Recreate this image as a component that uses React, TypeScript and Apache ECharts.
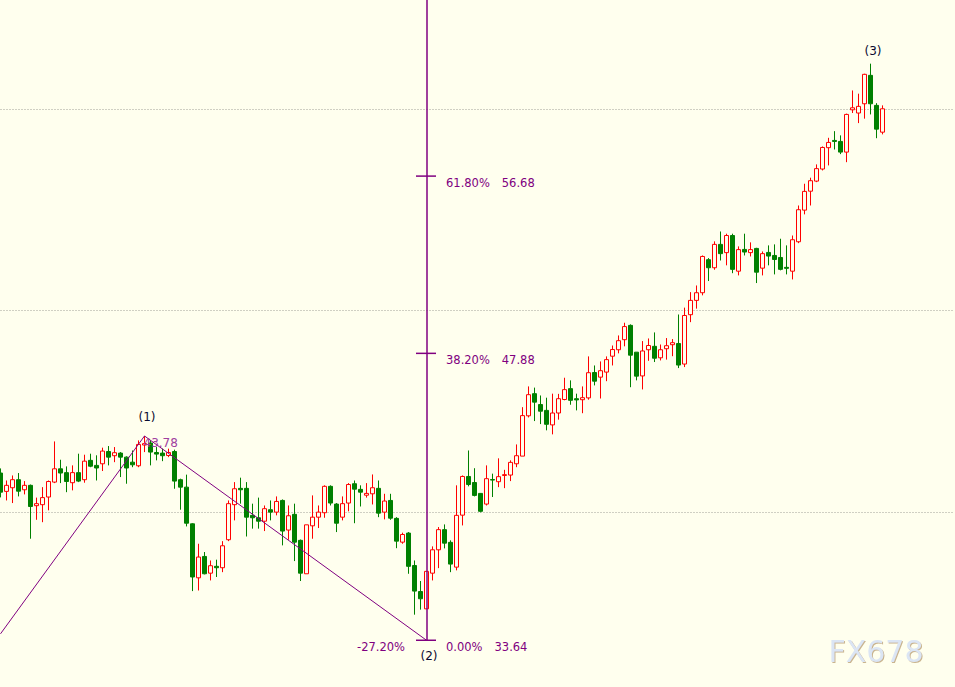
import React, { useEffect, useRef } from 'react';
import * as echarts from 'echarts';

// [open, close, low, high]
const ohlc: number[][] = [
  [41.94, 40.99, 40.73, 42.17], [41.03, 41.33, 40.58, 41.57], [41.21, 41.61, 40.45, 41.82], [41.61, 41.04, 40.78, 41.94],
  [41.11, 41.33, 40.88, 41.54], [41.33, 40.28, 38.68, 41.37], [40.32, 40.42, 39.62, 40.72], [40.37, 40.72, 39.50, 41.24],
  [40.75, 41.52, 40.09, 41.57], [41.49, 42.15, 41.44, 43.51], [42.15, 41.94, 41.44, 42.60], [41.96, 41.52, 40.99, 42.27],
  [41.46, 41.96, 41.08, 42.32], [41.96, 41.54, 41.49, 42.90], [41.61, 42.53, 41.46, 42.85], [42.57, 42.28, 42.23, 42.90],
  [42.32, 42.19, 41.57, 42.82], [42.40, 43.03, 42.04, 43.20], [43.01, 42.73, 42.32, 43.28], [42.80, 42.95, 42.48, 43.23],
  [42.93, 42.73, 41.74, 42.98], [42.73, 42.19, 41.41, 42.77], [42.48, 42.35, 42.23, 43.06], [42.30, 43.36, 42.23, 43.56],
  [43.33, 43.40, 42.98, 43.78], [43.43, 42.98, 42.32, 43.56], [42.96, 42.88, 42.57, 43.23], [42.93, 42.80, 42.53, 43.15],
  [42.81, 42.96, 42.73, 43.15], [43.01, 41.54, 41.16, 43.10], [41.61, 41.24, 40.12, 41.66], [41.24, 39.45, 39.29, 41.86],
  [39.42, 36.78, 36.08, 39.45], [36.74, 37.77, 36.11, 38.43], [37.80, 36.94, 36.91, 38.02], [36.97, 37.34, 36.61, 37.60],
  [37.31, 37.24, 36.78, 37.64], [37.24, 38.33, 37.02, 38.56], [38.63, 40.42, 38.56, 40.58], [40.37, 41.16, 39.59, 41.49],
  [41.18, 41.11, 40.42, 41.71], [41.18, 39.75, 38.79, 41.49], [39.84, 39.72, 39.18, 40.42], [39.72, 39.55, 39.18, 40.72],
  [39.55, 40.17, 39.06, 40.33], [40.12, 40.00, 39.59, 40.58], [40.00, 40.53, 39.84, 40.78], [40.58, 39.06, 38.35, 40.63],
  [39.11, 39.82, 38.63, 40.33], [39.89, 38.51, 37.57, 40.42], [38.60, 36.97, 36.58, 38.64], [36.94, 39.37, 36.94, 39.37],
  [39.32, 39.75, 38.68, 40.83], [39.75, 40.00, 39.21, 40.33], [39.97, 41.28, 39.72, 41.33], [41.28, 40.45, 40.33, 41.33],
  [40.40, 39.45, 39.01, 40.45], [39.75, 40.42, 39.59, 40.78], [40.45, 41.37, 40.04, 41.44], [41.41, 41.14, 39.45, 41.57],
  [41.13, 40.99, 40.28, 41.33], [40.84, 40.93, 40.72, 41.44], [40.91, 41.21, 40.38, 41.87], [41.18, 39.95, 39.75, 41.57],
  [40.00, 40.55, 39.64, 40.91], [40.58, 39.70, 39.62, 40.91], [39.69, 38.56, 38.21, 39.75], [38.51, 38.89, 38.43, 38.98],
  [38.96, 37.31, 36.94, 39.01], [37.35, 36.08, 34.91, 37.60], [36.06, 35.70, 35.16, 36.58], [35.20, 37.06, 35.20, 37.06],
  [36.97, 38.13, 36.61, 38.30], [38.13, 39.13, 37.22, 39.26], [39.13, 38.46, 38.20, 39.39], [38.50, 37.42, 37.02, 38.60],
  [37.27, 39.84, 37.11, 41.33], [39.85, 41.77, 39.34, 41.82], [41.77, 41.37, 41.28, 43.06], [41.47, 40.83, 40.78, 42.18],
  [40.93, 40.04, 39.99, 40.94], [40.40, 41.66, 40.33, 42.32], [41.62, 41.59, 40.75, 41.91], [41.51, 41.76, 41.24, 42.67],
  [41.82, 41.86, 41.19, 42.10], [41.84, 42.47, 41.54, 42.57], [42.40, 42.80, 42.23, 43.36], [42.78, 44.79, 42.78, 45.21],
  [44.78, 45.83, 44.70, 46.24], [45.88, 45.46, 44.52, 46.18], [45.34, 45.01, 44.37, 45.79], [45.05, 44.36, 44.06, 45.68],
  [44.33, 44.92, 43.86, 45.88], [44.92, 45.63, 44.59, 45.87], [45.59, 46.08, 45.55, 46.67], [46.13, 45.55, 45.33, 46.54],
  [45.63, 45.57, 45.05, 45.88], [45.58, 45.68, 44.91, 46.24], [45.67, 46.92, 45.58, 47.73], [46.93, 46.50, 46.29, 47.28],
  [46.70, 47.02, 45.64, 47.48], [46.95, 47.57, 46.50, 47.73], [47.74, 48.07, 47.28, 48.27], [48.06, 48.51, 47.88, 48.77],
  [48.56, 49.21, 48.23, 49.40], [49.27, 47.79, 46.20, 49.32], [47.94, 46.75, 46.54, 47.94], [46.76, 48.00, 46.09, 48.49],
  [48.06, 48.27, 47.51, 48.62], [48.23, 47.64, 47.45, 48.92], [47.66, 48.06, 47.53, 48.32], [48.11, 48.26, 47.57, 48.64],
  [48.31, 48.41, 47.74, 48.59], [48.37, 47.30, 47.15, 49.81], [47.35, 49.76, 47.20, 50.15], [49.80, 50.51, 49.43, 50.92],
  [50.51, 50.89, 50.10, 51.25], [50.89, 52.69, 50.76, 52.74], [52.53, 52.13, 51.47, 52.61], [52.13, 53.29, 52.03, 53.44],
  [53.29, 52.83, 52.49, 53.93], [52.88, 53.73, 52.25, 53.82], [53.73, 52.05, 51.86, 53.82], [51.96, 53.03, 51.75, 53.19],
  [53.04, 52.91, 52.74, 53.82], [52.88, 53.03, 52.69, 53.39], [53.09, 51.91, 51.37, 53.12], [52.11, 52.83, 51.75, 52.94],
  [52.89, 52.71, 52.25, 53.24], [52.74, 52.54, 51.80, 53.29], [52.64, 52.05, 52.00, 53.57], [52.15, 52.10, 51.80, 53.24],
  [51.96, 53.52, 51.55, 53.73], [53.42, 55.01, 53.35, 55.22], [54.99, 55.92, 54.78, 56.30], [55.93, 56.45, 55.22, 56.60],
  [56.43, 57.05, 56.38, 57.26], [57.03, 58.10, 56.96, 58.15], [58.09, 58.35, 57.21, 58.58], [58.45, 58.40, 58.00, 58.91],
  [58.40, 57.87, 57.77, 58.70], [57.87, 59.74, 57.37, 59.78], [59.97, 60.07, 59.81, 60.93], [59.81, 60.14, 59.31, 60.77],
  [60.27, 61.73, 59.53, 61.76], [61.68, 60.27, 59.74, 62.26], [60.19, 59.01, 58.56, 60.30], [58.86, 60.02, 58.75, 60.19],
];

const emptySlots = 12; // blank bars to the right of the last candle
const categories: string[] = Array.from({ length: ohlc.length + emptySlots }, (_, i) => String(i + 1));

const gridLevels = [40, 50, 60];
const priceMin = 31.32;
const priceMax = 65.42;

// Wave points: index into the candles, price
const zigzagIdx = [0, 24, 71];
const zigzagVal = [33.96, 43.78, 33.64];

const waveLabels = ['(1)', '(2)', '(3)'];
const waveIdx = [24, 71, 145];
const peakText = '43.78';
const swingText = '-27.20%';

const fibLow = 33.64;
const fibHigh = 70.92;
const fibRatios = [0, 0.382, 0.618];
const fibIdx = 71;

const watermark = 'FX678';

const PURPLE = '#800080';
const FONT = '"DejaVu Sans", Verdana, sans-serif';

export default function App() {
  const ref = useRef<HTMLDivElement>(null);

  useEffect(() => {
    if (!ref.current) return;
    const chart = echarts.init(ref.current, undefined, { renderer: 'svg' });

    const zigzag = categories.map((_, i) => {
      const k = zigzagIdx.indexOf(i);
      return k >= 0 ? zigzagVal[k] : null;
    });

    chart.setOption({
      animation: false,
      backgroundColor: '#ffffee',
      grid: { left: 0.5, right: 955 - 0.5 - (categories.length - 1) * 6, top: 0, bottom: 0 },
      xAxis: {
        type: 'category',
        data: categories,
        boundaryGap: false,
        show: false,
      },
      yAxis: {
        type: 'value',
        min: priceMin,
        max: priceMax,
        show: false,
        splitLine: { show: false },
      },
      series: [
        {
          type: 'candlestick',
          data: ohlc,
          barWidth: 4,
          itemStyle: {
            color: '#ffffee',
            color0: '#008000',
            borderColor: '#ff0000',
            borderColor0: '#008000',
            borderWidth: 1,
          },
          markLine: {
            silent: true,
            symbol: ['none', 'none'],
            label: { show: false },
            lineStyle: { color: '#a0a098', type: [1, 2], width: 1 },
            data: gridLevels.map((v) => ({ yAxis: v })),
            z: 1,
          },
          z: 3,
        },
        {
          type: 'line',
          data: zigzag,
          connectNulls: true,
          symbol: 'none',
          lineStyle: { color: PURPLE, width: 1 },
          z: 4,
          markLine: {
            silent: true,
            symbol: ['none', 'none'],
            label: { show: false },
            lineStyle: { color: PURPLE, type: 'solid', width: 1.5 },
            data: [[{ coord: [categories[fibIdx], fibLow] }, { coord: [categories[fibIdx], priceMax] }]],
          },
        },
      ],
    });

    const px = (i: number, v: number) => chart.convertToPixel({ gridIndex: 0 }, [categories[i], v]) as number[];

    const graphics: any[] = [];
    const txt = (text: string, x: number, y: number, fill: string, size: number, align: string) => ({
      type: 'text',
      silent: true,
      z: 10,
      style: {
        text, x, y, fill,
        font: `${size}px ${FONT}`,
        fontSize: size,
        fontFamily: FONT,
        align, textAlign: align,
        verticalAlign: 'middle', textVerticalAlign: 'middle',
      },
    });

    fibRatios.forEach((r) => {
      const level = fibLow + r * (fibHigh - fibLow);
      const [x, y] = px(fibIdx, level);
      graphics.push({
        type: 'line', silent: true, z: 9,
        shape: { x1: x - 10.5, y1: y, x2: x + 9.5, y2: y },
        style: { stroke: PURPLE, lineWidth: 1.5 },
      });
      const pct = (r * 100).toFixed(2) + '%';
      graphics.push(txt(pct, x + 19.5, y + 7, PURPLE, 11.5, 'left'));
      graphics.push(txt(level.toFixed(2), x + 19.5 + pct.length * 7.3 + 12, y + 7, PURPLE, 11.5, 'left'));
    });

    const [sx, sy] = px(fibIdx, fibLow);
    graphics.push(txt(swingText, sx - 21.5, sy + 7, PURPLE, 11.5, 'right'));

    const offsets = [-19, 16, -13];
    waveIdx.forEach((idx, k) => {
      const d = ohlc[idx];
      const v = k === 1 ? fibLow : d[3];
      const [x, y] = px(idx, k === 0 ? zigzagVal[1] : v);
      graphics.push(txt(waveLabels[k], x + 2.5, y + offsets[k], '#0a0a30', 12, 'center'));
    });

    const [p1x, p1y] = px(zigzagIdx[1], zigzagVal[1]);
    graphics.push(txt(peakText, p1x - 1, p1y + 7, '#a0409f', 12, 'left'));

    graphics.push({
      type: 'text', silent: true, z: 10,
      style: {
        text: watermark, x: 876, y: 651,
        font: `30px ${FONT}`, fontSize: 30, fontFamily: FONT,
        align: 'center', textAlign: 'center',
        verticalAlign: 'middle', textVerticalAlign: 'middle',
        fill: '#dbe5f4',
        textShadowColor: '#c9b48e', textShadowOffsetX: 1, textShadowOffsetY: 1, textShadowBlur: 1,
      },
    });

    chart.setOption({ graphic: graphics });

    return () => chart.dispose();
  }, []);

  return (
    <div
      ref={ref}
      style={{ position: 'fixed', left: 0, top: 0, width: 955, height: 687 }}
    />
  );
}
